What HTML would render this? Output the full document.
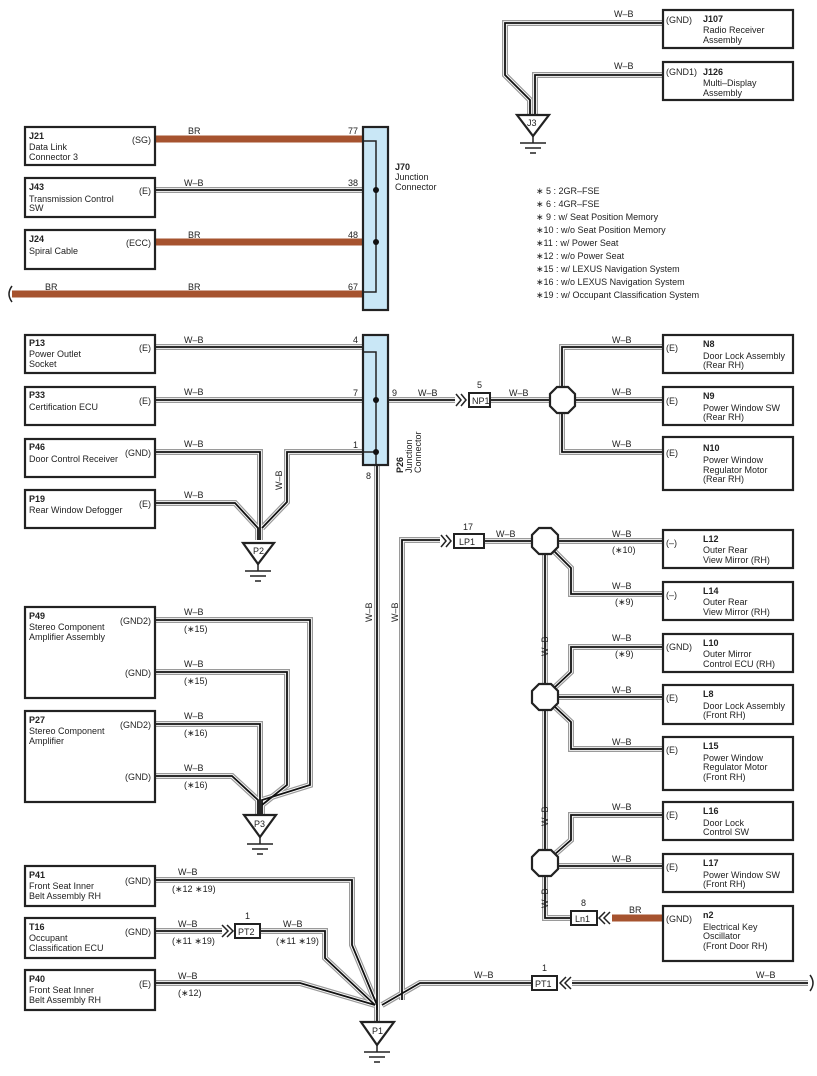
<!DOCTYPE html>
<html><head><meta charset="utf-8"><style>
html,body{margin:0;padding:0;background:#fff}
svg{display:block;font-family:"Liberation Sans",Arial,sans-serif}
text{font-size:9px;fill:#222}
.b{font-weight:bold}
.box{fill:#fff;stroke:#222;stroke-width:2.2}
.con{fill:#c9e7f6;stroke:#222;stroke-width:2.2}
.br{fill:none;stroke:#a6532f;stroke-width:7}
.gnd{fill:#fff;stroke:#222;stroke-width:2.2}
.sym{fill:none;stroke:#222;stroke-width:1.5}
</style></head><body>
<svg width="817" height="1076" viewBox="0 0 817 1076" xmlns="http://www.w3.org/2000/svg">
<defs>
<g id="WB" fill="none" stroke-linejoin="miter">
<path d="M663 23 H505 V75 L530 100 V118"/>
<path d="M663 75 H535 V118"/>
<path d="M155 190 H363"/>
<path d="M155 347 H363"/>
<path d="M155 400 H363"/>
<path d="M388 400 H455"/>
<path d="M490 400 H550"/>
<path d="M155 452 H260 V540"/>
<path d="M155 503 H235 L258 528 V540"/>
<path d="M363 452 H287 V502 L262 528"/>
<path d="M562 388 V347 H663"/>
<path d="M575 400 H663"/>
<path d="M562 412 V452 H663"/>
<path d="M377 465 V1010"/>
<path d="M440 540 H402 V1000"/>
<path d="M485 541 H532"/>
<path d="M558 541 H663"/>
<path d="M554 551 L571 568 V594 H663"/>
<path d="M663 647 H571 V672 L554 688"/>
<path d="M558 697 H663"/>
<path d="M554 706 L571 722 V749 H663"/>
<path d="M663 815 H571 V840 L554 855"/>
<path d="M558 866 H663"/>
<path d="M545 554 V684"/>
<path d="M545 710 V850"/>
<path d="M545 876 V918 H571"/>
<path d="M155 620 H310 V785 L262 800 V815"/>
<path d="M155 672 H287 V785 L262 805"/>
<path d="M155 724 H260 V815"/>
<path d="M155 776 H232 L258 800 V815"/>
<path d="M155 880 H352 V945 L377 1005"/>
<path d="M155 931 H222"/>
<path d="M260 931 H325 V958 L375 1005"/>
<path d="M155 983 H300 L375 1005"/>
<path d="M808 983 H572"/>
<path d="M532 983 H420 L382 1005"/>
<path d="M377 1005 V1022"/>
</g>
</defs>
<use href="#WB" stroke="#9a9a9a" stroke-width="6"/>
<use href="#WB" stroke="#fff" stroke-width="3.6"/>
<use href="#WB" stroke="#111" stroke-width="1.8"/>

<path class="br" d="M155 139 H363 M155 242 H363 M12 294 H363 M612 918 H663"/>
<path class="sym" d="M12 286 Q6 294 12 302" stroke-width="2"/>
<path class="sym" d="M810 975 Q816 983 810 991" stroke-width="2"/>

<rect class="con" x="363" y="127" width="25" height="183"/>
<path class="sym" d="M363 141 H376 V292 H363" stroke-width="1.3"/>
<circle cx="376" cy="190" r="3" fill="#111"/><circle cx="376" cy="242" r="3" fill="#111"/>
<text x="395" y="170" class="b">J70</text><text x="395" y="180">Junction</text><text x="395" y="190">Connector</text>
<text x="348" y="134">77</text><text x="348" y="186">38</text><text x="348" y="238">48</text><text x="348" y="290">67</text>
<text x="188" y="134">BR</text><text x="184" y="186">W–B</text><text x="188" y="238">BR</text><text x="188" y="290">BR</text><text x="45" y="290">BR</text>

<rect class="box" x="25" y="127" width="130" height="38"/><text x="29" y="139" class="b">J21</text><text x="29" y="150">Data Link</text><text x="29" y="160">Connector 3</text><text x="151" y="143" text-anchor="end">(SG)</text>
<rect class="box" x="25" y="178" width="130" height="39"/><text x="29" y="190" class="b">J43</text><text x="29" y="202">Transmission Control</text><text x="29" y="211">SW</text><text x="151" y="194" text-anchor="end">(E)</text>
<rect class="box" x="25" y="230" width="130" height="39"/><text x="29" y="242" class="b">J24</text><text x="29" y="254">Spiral Cable</text><text x="151" y="246" text-anchor="end">(ECC)</text>

<rect class="box" x="663" y="10" width="130" height="38"/><text x="666" y="23">(GND)</text><text x="703" y="22" class="b">J107</text><text x="703" y="33">Radio Receiver</text><text x="703" y="43">Assembly</text>
<rect class="box" x="663" y="62" width="130" height="38"/><text x="666" y="75">(GND1)</text><text x="703" y="75" class="b">J126</text><text x="703" y="86">Multi–Display</text><text x="703" y="96">Assembly</text>
<text x="614" y="17">W–B</text><text x="614" y="69">W–B</text>
<path class="gnd" d="M517 115 H549 L533 136 Z"/><text x="527" y="126" font-size="8">J3</text>
<path class="sym" d="M533 136 V143 M520 143 H546 M525 148 H541 M530 153 H536"/>

<g font-size="8.5">
<text x="536" y="194">∗ 5 : 2GR–FSE</text><text x="536" y="207">∗ 6 : 4GR–FSE</text><text x="536" y="220">∗ 9 : w/ Seat Position Memory</text><text x="536" y="233">∗10 : w/o Seat Position Memory</text><text x="536" y="246">∗11 : w/ Power Seat</text><text x="536" y="259">∗12 : w/o Power Seat</text><text x="536" y="272">∗15 : w/ LEXUS Navigation System</text><text x="536" y="285">∗16 : w/o LEXUS Navigation System</text><text x="536" y="298">∗19 : w/ Occupant Classification System</text>
</g>

<rect class="con" x="363" y="335" width="25" height="130"/>
<path class="sym" d="M363 352 H376 V465" stroke-width="1.3"/>
<path class="sym" d="M363 452 H376" stroke-width="1.3"/>
<circle cx="376" cy="400" r="3" fill="#111"/><circle cx="376" cy="452" r="3" fill="#111"/>
<text x="353" y="343">4</text><text x="353" y="396">7</text><text x="353" y="448">1</text><text x="366" y="479" font-size="8">8</text><text x="392" y="396">9</text>
<g transform="translate(403,473) rotate(-90)"><text x="0" y="0" class="b">P26</text></g>
<g transform="translate(412,473) rotate(-90)"><text x="0" y="0">Junction</text></g>
<g transform="translate(421,473) rotate(-90)"><text x="0" y="0">Connector</text></g>
<text x="184" y="343">W–B</text><text x="184" y="395">W–B</text><text x="184" y="447">W–B</text><text x="184" y="498">W–B</text>
<g transform="translate(282,490) rotate(-90)"><text>W–B</text></g>
<text x="418" y="396">W–B</text><text x="509" y="396">W–B</text>

<rect class="box" x="25" y="335" width="130" height="38"/><text x="29" y="346" class="b">P13</text><text x="29" y="357">Power Outlet</text><text x="29" y="367">Socket</text><text x="151" y="351" text-anchor="end">(E)</text>
<rect class="box" x="25" y="387" width="130" height="38"/><text x="29" y="398" class="b">P33</text><text x="29" y="410">Certification ECU</text><text x="151" y="404" text-anchor="end">(E)</text>
<rect class="box" x="25" y="439" width="130" height="38"/><text x="29" y="450" class="b">P46</text><text x="29" y="462">Door Control Receiver</text><text x="151" y="456" text-anchor="end">(GND)</text>
<rect class="box" x="25" y="490" width="130" height="38"/><text x="29" y="502" class="b">P19</text><text x="29" y="513">Rear Window Defogger</text><text x="151" y="507" text-anchor="end">(E)</text>

<path class="gnd" d="M243 543 H274 L258 564 Z"/><text x="253" y="554" font-size="8">P2</text>
<path class="sym" d="M258 564 V571 M245 571 H271 M250 576 H266 M255 581 H261"/>

<path class="sym" d="M456 394 L461 400 L456 406 M461 394 L466 400 L461 406" stroke-width="2"/>
<rect x="469" y="393" width="21" height="14" fill="#fff" stroke="#222" stroke-width="2"/><text x="472" y="404">NP1</text><text x="477" y="388">5</text>
<path class="gnd" d="M557 387 H568 L575 394 V406 L568 413 H557 L550 406 V394 Z"/>

<rect class="box" x="663" y="335" width="130" height="38"/><text x="666" y="351">(E)</text><text x="703" y="347" class="b">N8</text><text x="703" y="359">Door Lock Assembly</text><text x="703" y="368">(Rear RH)</text>
<rect class="box" x="663" y="387" width="130" height="38"/><text x="666" y="404">(E)</text><text x="703" y="399" class="b">N9</text><text x="703" y="411">Power Window SW</text><text x="703" y="420">(Rear RH)</text>
<rect class="box" x="663" y="437" width="130" height="53"/><text x="666" y="456">(E)</text><text x="703" y="451" class="b">N10</text><text x="703" y="463">Power Window</text><text x="703" y="473">Regulator Motor</text><text x="703" y="482">(Rear RH)</text>
<text x="612" y="343">W–B</text><text x="612" y="395">W–B</text><text x="612" y="447">W–B</text>

<path class="sym" d="M441 535 L446 541 L441 547 M446 535 L451 541 L446 547" stroke-width="2"/>
<rect x="454" y="534" width="30" height="14" fill="#fff" stroke="#222" stroke-width="2"/><text x="459" y="545">LP1</text><text x="463" y="530">17</text>
<text x="496" y="537">W–B</text>
<g transform="translate(372,622) rotate(-90)"><text>W–B</text></g>
<g transform="translate(398,622) rotate(-90)"><text>W–B</text></g>

<path class="gnd" d="M539 528 H551 L558 535 V547 L551 554 H539 L532 547 V535 Z"/>
<path class="gnd" d="M539 684 H551 L558 691 V703 L551 710 H539 L532 703 V691 Z"/>
<path class="gnd" d="M539 850 H551 L558 857 V869 L551 876 H539 L532 869 V857 Z"/>
<g transform="translate(548,656) rotate(-90)"><text>W–B</text></g>
<g transform="translate(548,826) rotate(-90)"><text>W–B</text></g>
<g transform="translate(548,908) rotate(-90)"><text>W–B</text></g>

<text x="612" y="537">W–B</text><text x="612" y="553">(∗10)</text>
<text x="612" y="589">W–B</text><text x="615" y="605">(∗9)</text>
<text x="612" y="641">W–B</text><text x="615" y="657">(∗9)</text>
<text x="612" y="693">W–B</text><text x="612" y="745">W–B</text><text x="612" y="810">W–B</text><text x="612" y="862">W–B</text>
<text x="629" y="913">BR</text>

<rect class="box" x="663" y="530" width="130" height="38"/><text x="666" y="546">(–)</text><text x="703" y="542" class="b">L12</text><text x="703" y="553">Outer Rear</text><text x="703" y="563">View Mirror (RH)</text>
<rect class="box" x="663" y="582" width="130" height="38"/><text x="666" y="598">(–)</text><text x="703" y="594" class="b">L14</text><text x="703" y="605">Outer Rear</text><text x="703" y="615">View Mirror (RH)</text>
<rect class="box" x="663" y="634" width="130" height="38"/><text x="666" y="650">(GND)</text><text x="703" y="646" class="b">L10</text><text x="703" y="657">Outer Mirror</text><text x="703" y="667">Control ECU (RH)</text>
<rect class="box" x="663" y="685" width="130" height="39"/><text x="666" y="701">(E)</text><text x="703" y="697" class="b">L8</text><text x="703" y="709">Door Lock Assembly</text><text x="703" y="718">(Front RH)</text>
<rect class="box" x="663" y="737" width="130" height="53"/><text x="666" y="753">(E)</text><text x="703" y="749" class="b">L15</text><text x="703" y="761">Power Window</text><text x="703" y="770">Regulator Motor</text><text x="703" y="780">(Front RH)</text>
<rect class="box" x="663" y="802" width="130" height="38"/><text x="666" y="818">(E)</text><text x="703" y="814" class="b">L16</text><text x="703" y="826">Door Lock</text><text x="703" y="835">Control SW</text>
<rect class="box" x="663" y="854" width="130" height="38"/><text x="666" y="870">(E)</text><text x="703" y="866" class="b">L17</text><text x="703" y="878">Power Window SW</text><text x="703" y="887">(Front RH)</text>
<rect class="box" x="663" y="906" width="130" height="55"/><text x="666" y="922">(GND)</text><text x="703" y="918" class="b">n2</text><text x="703" y="930">Electrical Key</text><text x="703" y="939">Oscillator</text><text x="703" y="949">(Front Door RH)</text>

<rect x="571" y="911" width="26" height="14" fill="#fff" stroke="#222" stroke-width="2"/><text x="575" y="922">Ln1</text><text x="581" y="906">8</text>
<path class="sym" d="M605 912 L599 918 L605 924 M610 912 L604 918 L610 924" stroke-width="2"/>

<rect class="box" x="25" y="607" width="130" height="91"/><text x="29" y="619" class="b">P49</text><text x="29" y="630">Stereo Component</text><text x="29" y="640">Amplifier Assembly</text><text x="151" y="624" text-anchor="end">(GND2)</text><text x="151" y="676" text-anchor="end">(GND)</text>
<rect class="box" x="25" y="711" width="130" height="91"/><text x="29" y="723" class="b">P27</text><text x="29" y="734">Stereo Component</text><text x="29" y="744">Amplifier</text><text x="151" y="728" text-anchor="end">(GND2)</text><text x="151" y="780" text-anchor="end">(GND)</text>
<text x="184" y="615">W–B</text><text x="184" y="632">(∗15)</text><text x="184" y="667">W–B</text><text x="184" y="684">(∗15)</text>
<text x="184" y="719">W–B</text><text x="184" y="736">(∗16)</text><text x="184" y="771">W–B</text><text x="184" y="788">(∗16)</text>
<path class="gnd" d="M244 815 H276 L260 837 Z"/><text x="254" y="827" font-size="8">P3</text>
<path class="sym" d="M260 837 V844 M247 844 H273 M252 849 H268 M257 854 H263"/>

<rect class="box" x="25" y="866" width="130" height="40"/><text x="29" y="878" class="b">P41</text><text x="29" y="889">Front Seat Inner</text><text x="29" y="899">Belt Assembly RH</text><text x="151" y="884" text-anchor="end">(GND)</text>
<rect class="box" x="25" y="918" width="130" height="40"/><text x="29" y="930" class="b">T16</text><text x="29" y="941">Occupant</text><text x="29" y="951">Classification ECU</text><text x="151" y="935" text-anchor="end">(GND)</text>
<rect class="box" x="25" y="970" width="130" height="40"/><text x="29" y="982" class="b">P40</text><text x="29" y="993">Front Seat Inner</text><text x="29" y="1003">Belt Assembly RH</text><text x="151" y="987" text-anchor="end">(E)</text>
<text x="178" y="875">W–B</text><text x="172" y="892">(∗12 ∗19)</text>
<text x="178" y="927">W–B</text><text x="172" y="944">(∗11 ∗19)</text>
<text x="283" y="927">W–B</text><text x="276" y="944">(∗11 ∗19)</text>
<text x="178" y="979">W–B</text><text x="178" y="996">(∗12)</text>
<path class="sym" d="M222 925 L228 931 L222 937 M227 925 L233 931 L227 937" stroke-width="2"/>
<rect x="235" y="924" width="25" height="14" fill="#fff" stroke="#222" stroke-width="2"/><text x="238" y="935">PT2</text><text x="245" y="919">1</text>

<path class="sym" d="M566 977 L560 983 L566 989 M571 977 L565 983 L571 989" stroke-width="2"/>
<rect x="532" y="976" width="25" height="14" fill="#fff" stroke="#222" stroke-width="2"/><text x="535" y="987">PT1</text><text x="542" y="971">1</text>
<text x="474" y="978">W–B</text><text x="756" y="978">W–B</text>

<path class="gnd" d="M361 1022 H394 L377 1045 Z"/><text x="372" y="1034" font-size="8">P1</text>
<path class="sym" d="M377 1045 V1052 M364 1052 H390 M369 1057 H385 M374 1062 H380"/>
</svg>
</body></html>
